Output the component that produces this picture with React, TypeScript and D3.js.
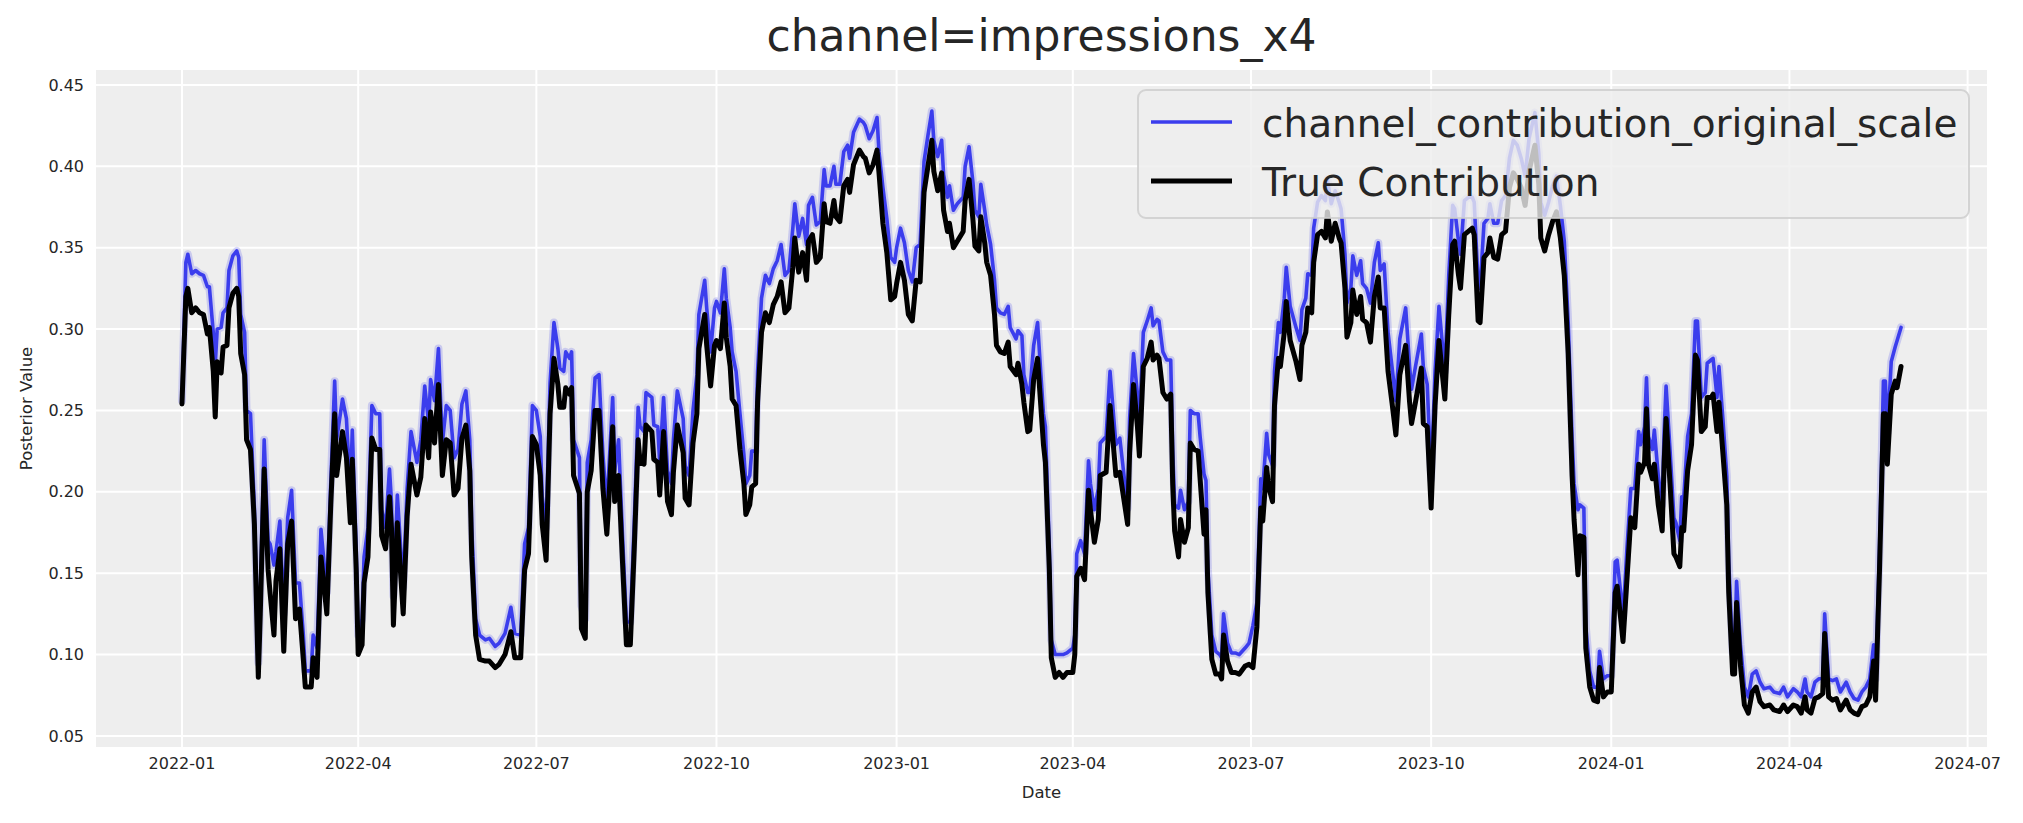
import React from 'react';
import * as d3 from 'd3';

const dayOffsets = [
  0, 2, 3, 5, 7, 9, 11, 13, 14, 16, 17, 18, 20, 21, 23, 24, 26, 28, 29, 30, 32, 33, 35, 37, 39, 40, 42, 44, 45, 47,
  48, 50, 52, 54, 56, 58, 60, 62, 63, 66, 67, 69, 71, 74, 76, 78, 79, 82, 84, 86, 87, 89, 90, 92, 93, 95, 97, 99, 101, 102,
  104, 106, 107, 108, 110, 113, 115, 117, 120, 122, 124, 126, 127, 129, 131, 133, 135, 137, 139, 141, 143, 145, 147, 148, 150, 152, 155, 157, 160, 162,
  165, 168, 170, 173, 175, 177, 179, 181, 183, 184, 186, 188, 190, 192, 193, 195, 196, 198, 199, 200, 203, 204, 206, 207, 209, 211, 213, 215, 217, 218,
  220, 221, 223, 225, 227, 229, 231, 233, 234, 236, 237, 240, 241, 243, 244, 246, 248, 250, 251, 253, 256, 257, 259, 261, 263, 264, 267, 268, 270, 272,
  273, 275, 277, 278, 280, 281, 283, 285, 287, 288, 290, 291, 293, 294, 296, 298, 300, 302, 304, 306, 308, 310, 312, 313, 315, 317, 319, 320, 322, 324,
  326, 328, 329, 331, 333, 334, 336, 338, 340, 341, 343, 346, 348, 349, 351, 353, 355, 356, 358, 360, 362, 364, 365, 367, 369, 371, 373, 375, 377, 379,
  381, 383, 384, 386, 388, 389, 391, 392, 394, 396, 399, 400, 402, 404, 405, 407, 408, 410, 411, 413, 415, 416, 418, 420, 422, 423, 426, 427, 429, 430,
  432, 433, 435, 437, 438, 440, 441, 443, 444, 446, 448, 450, 452, 455, 456, 457, 459, 461, 463, 464, 466, 468, 469, 472, 474, 477, 479, 483, 484, 486,
  488, 489, 491, 493, 495, 496, 498, 499, 501, 503, 505, 506, 507, 509, 510, 512, 514, 515, 517, 519, 520, 522, 523, 524, 526, 528, 530, 531, 532, 534,
  536, 538, 540, 543, 545, 547, 549, 551, 552, 554, 555, 557, 558, 560, 561, 563, 564, 566, 569, 571, 572, 574, 575, 577, 578, 580, 582, 584, 585, 587,
  589, 591, 592, 594, 595, 597, 598, 600, 602, 603, 605, 607, 609, 611, 612, 614, 616, 618, 620, 622, 625, 627, 628, 630, 633, 634, 636, 638, 640, 642,
  645, 647, 649, 650, 652, 653, 655, 657, 659, 660, 662, 663, 665, 667, 668, 670, 672, 674, 676, 678, 680, 682, 684, 686, 688, 691, 693, 694, 696, 698,
  700, 702, 704, 706, 708, 710, 711, 713, 714, 716, 717, 719, 721, 723, 724, 726, 728, 730, 732, 733, 735, 736, 738, 740, 742, 744, 745, 747, 748, 749,
  751, 752, 754, 756, 757, 758, 760, 762, 763, 765, 766, 767, 769, 771, 773, 774, 776, 778, 779, 781, 782, 784, 785, 787, 789, 790, 792, 793, 794, 796,
  798, 800, 802, 804, 806, 808, 811, 813, 816, 818, 820, 823, 825, 827, 829, 830, 832, 834, 836, 838, 839, 841, 843, 845, 847, 850, 852, 854, 856, 858,
  860, 862, 864, 865, 867, 869, 870, 871, 873, 875, 876, 878,
];

// posterior mean of channel_contribution_original_scale
const posteriorMean = [
  0.256, 0.341, 0.346, 0.334, 0.336, 0.334, 0.333, 0.326, 0.326, 0.298, 0.278, 0.3, 0.301, 0.31, 0.313, 0.336, 0.345, 0.348, 0.344, 0.309, 0.298, 0.25, 0.248, 0.19, 0.095, 0.138, 0.232, 0.17, 0.168, 0.155,
  0.163, 0.182, 0.125, 0.184, 0.201, 0.144, 0.144, 0.112, 0.09, 0.09, 0.112, 0.104, 0.177, 0.138, 0.205, 0.268, 0.232, 0.257, 0.245, 0.2, 0.238, 0.165, 0.112, 0.122, 0.16, 0.178, 0.253, 0.248, 0.248, 0.189,
  0.178, 0.214, 0.194, 0.136, 0.198, 0.141, 0.202, 0.237, 0.218, 0.232, 0.265, 0.242, 0.269, 0.256, 0.288, 0.23, 0.253, 0.25, 0.221, 0.226, 0.254, 0.262, 0.232, 0.178, 0.122, 0.112, 0.109, 0.11, 0.105, 0.107,
  0.113, 0.129, 0.113, 0.112, 0.168, 0.178, 0.253, 0.25, 0.234, 0.197, 0.178, 0.267, 0.304, 0.288, 0.276, 0.274, 0.286, 0.282, 0.286, 0.232, 0.221, 0.13, 0.122, 0.218, 0.232, 0.27, 0.272, 0.223, 0.19, 0.213,
  0.258, 0.213, 0.232, 0.173, 0.12, 0.12, 0.181, 0.252, 0.24, 0.237, 0.261, 0.258, 0.241, 0.24, 0.218, 0.258, 0.213, 0.205, 0.232, 0.262, 0.245, 0.216, 0.21, 0.25, 0.272, 0.309, 0.33, 0.313, 0.286, 0.313,
  0.317, 0.31, 0.337, 0.319, 0.301, 0.286, 0.274, 0.248, 0.223, 0.205, 0.21, 0.225, 0.225, 0.274, 0.319, 0.333, 0.328, 0.337, 0.342, 0.352, 0.333, 0.336, 0.362, 0.377, 0.357, 0.368, 0.352, 0.376, 0.381, 0.364,
  0.366, 0.398, 0.388, 0.388, 0.4, 0.389, 0.389, 0.409, 0.413, 0.405, 0.421, 0.429, 0.427, 0.425, 0.417, 0.422, 0.43, 0.409, 0.387, 0.368, 0.344, 0.341, 0.35, 0.362, 0.353, 0.336, 0.329, 0.35, 0.352, 0.403,
  0.419, 0.434, 0.416, 0.406, 0.416, 0.395, 0.381, 0.388, 0.373, 0.377, 0.381, 0.4, 0.412, 0.39, 0.373, 0.369, 0.389, 0.373, 0.364, 0.352, 0.33, 0.313, 0.31, 0.309, 0.314, 0.301, 0.294, 0.299, 0.296, 0.272,
  0.261, 0.261, 0.29, 0.304, 0.285, 0.248, 0.24, 0.165, 0.109, 0.1, 0.1, 0.1, 0.101, 0.104, 0.112, 0.162, 0.17, 0.162, 0.219, 0.205, 0.189, 0.202, 0.23, 0.234, 0.274, 0.229, 0.233, 0.19, 0.245, 0.285,
  0.26, 0.242, 0.298, 0.305, 0.313, 0.302, 0.306, 0.305, 0.286, 0.281, 0.281, 0.226, 0.192, 0.19, 0.201, 0.189, 0.194, 0.25, 0.248, 0.248, 0.234, 0.211, 0.207, 0.152, 0.112, 0.102, 0.1, 0.098, 0.125, 0.107,
  0.101, 0.101, 0.1, 0.104, 0.107, 0.118, 0.132, 0.208, 0.202, 0.236, 0.223, 0.216, 0.274, 0.304, 0.298, 0.319, 0.338, 0.314, 0.301, 0.293, 0.312, 0.319, 0.334, 0.333, 0.362, 0.378, 0.382, 0.379, 0.392, 0.377,
  0.385, 0.378, 0.374, 0.346, 0.316, 0.325, 0.345, 0.333, 0.342, 0.328, 0.325, 0.316, 0.341, 0.353, 0.336, 0.34, 0.298, 0.277, 0.256, 0.294, 0.313, 0.277, 0.263, 0.277, 0.297, 0.277, 0.266, 0.208, 0.274, 0.314,
  0.274, 0.333, 0.376, 0.374, 0.354, 0.346, 0.379, 0.381, 0.381, 0.378, 0.328, 0.325, 0.365, 0.368, 0.377, 0.365, 0.365, 0.379, 0.382, 0.405, 0.416, 0.413, 0.405, 0.394, 0.417, 0.433, 0.408, 0.378, 0.37, 0.378,
  0.388, 0.394, 0.376, 0.354, 0.304, 0.233, 0.205, 0.189, 0.192, 0.19, 0.117, 0.09, 0.08, 0.08, 0.102, 0.085, 0.087, 0.087, 0.157, 0.158, 0.136, 0.122, 0.165, 0.202, 0.202, 0.237, 0.229, 0.24, 0.27, 0.234,
  0.226, 0.238, 0.21, 0.192, 0.237, 0.265, 0.226, 0.184, 0.181, 0.17, 0.197, 0.196, 0.234, 0.248, 0.305, 0.305, 0.258, 0.261, 0.279, 0.281, 0.282, 0.258, 0.277, 0.245, 0.21, 0.157, 0.101, 0.101, 0.145, 0.106,
  0.08, 0.074, 0.088, 0.09, 0.083, 0.079, 0.08, 0.077, 0.076, 0.08, 0.074, 0.079, 0.077, 0.074, 0.085, 0.077, 0.074, 0.083, 0.085, 0.086, 0.125, 0.085, 0.084, 0.085, 0.077, 0.083, 0.077, 0.073, 0.072, 0.077,
  0.08, 0.085, 0.106, 0.085, 0.165, 0.268, 0.268, 0.236, 0.28, 0.289, 0.293, 0.301,
];

// true contribution used to simulate the data
const trueContribution = [
  0.254, 0.32, 0.325, 0.31, 0.313, 0.31, 0.309, 0.297, 0.301, 0.274, 0.246, 0.28, 0.273, 0.289, 0.29, 0.313, 0.322, 0.325, 0.32, 0.285, 0.272, 0.232, 0.226, 0.18, 0.086, 0.125, 0.214, 0.152, 0.138, 0.112,
  0.145, 0.165, 0.102, 0.168, 0.182, 0.122, 0.128, 0.097, 0.08, 0.08, 0.098, 0.086, 0.16, 0.125, 0.192, 0.248, 0.21, 0.237, 0.221, 0.181, 0.22, 0.152, 0.1, 0.106, 0.144, 0.16, 0.233, 0.226, 0.226, 0.173,
  0.165, 0.197, 0.178, 0.118, 0.181, 0.125, 0.185, 0.217, 0.198, 0.209, 0.245, 0.221, 0.249, 0.23, 0.266, 0.21, 0.232, 0.23, 0.198, 0.202, 0.233, 0.241, 0.213, 0.16, 0.112, 0.097, 0.096, 0.096, 0.092, 0.094,
  0.1, 0.114, 0.098, 0.098, 0.152, 0.162, 0.234, 0.229, 0.21, 0.18, 0.158, 0.248, 0.282, 0.266, 0.252, 0.252, 0.264, 0.26, 0.264, 0.21, 0.199, 0.116, 0.11, 0.2, 0.213, 0.25, 0.25, 0.202, 0.174, 0.194,
  0.24, 0.194, 0.21, 0.157, 0.106, 0.106, 0.165, 0.232, 0.218, 0.217, 0.241, 0.237, 0.22, 0.218, 0.198, 0.237, 0.194, 0.186, 0.212, 0.241, 0.224, 0.196, 0.192, 0.23, 0.248, 0.288, 0.309, 0.29, 0.265, 0.29,
  0.293, 0.288, 0.316, 0.295, 0.277, 0.257, 0.253, 0.226, 0.205, 0.186, 0.192, 0.203, 0.205, 0.255, 0.298, 0.31, 0.304, 0.315, 0.32, 0.329, 0.31, 0.313, 0.338, 0.356, 0.335, 0.347, 0.33, 0.354, 0.358, 0.341,
  0.344, 0.377, 0.366, 0.365, 0.379, 0.369, 0.366, 0.388, 0.392, 0.384, 0.401, 0.41, 0.406, 0.405, 0.396, 0.401, 0.41, 0.396, 0.365, 0.347, 0.318, 0.32, 0.328, 0.341, 0.33, 0.309, 0.305, 0.33, 0.329, 0.384,
  0.4, 0.416, 0.397, 0.385, 0.396, 0.373, 0.36, 0.365, 0.35, 0.354, 0.36, 0.379, 0.392, 0.367, 0.351, 0.348, 0.369, 0.353, 0.341, 0.333, 0.309, 0.29, 0.286, 0.285, 0.292, 0.277, 0.272, 0.279, 0.266, 0.255,
  0.237, 0.238, 0.269, 0.282, 0.264, 0.229, 0.218, 0.152, 0.098, 0.086, 0.089, 0.086, 0.089, 0.089, 0.1, 0.148, 0.153, 0.146, 0.201, 0.189, 0.169, 0.183, 0.21, 0.212, 0.253, 0.21, 0.212, 0.18, 0.224, 0.266,
  0.24, 0.222, 0.277, 0.282, 0.292, 0.281, 0.284, 0.282, 0.261, 0.257, 0.26, 0.205, 0.176, 0.16, 0.183, 0.169, 0.178, 0.23, 0.226, 0.225, 0.208, 0.174, 0.189, 0.138, 0.097, 0.088, 0.088, 0.085, 0.112, 0.096,
  0.089, 0.089, 0.088, 0.093, 0.094, 0.092, 0.117, 0.19, 0.182, 0.215, 0.203, 0.194, 0.253, 0.282, 0.277, 0.298, 0.317, 0.293, 0.28, 0.269, 0.29, 0.298, 0.313, 0.31, 0.341, 0.358, 0.36, 0.356, 0.372, 0.354,
  0.365, 0.356, 0.353, 0.325, 0.295, 0.304, 0.324, 0.309, 0.32, 0.306, 0.304, 0.292, 0.32, 0.332, 0.313, 0.313, 0.274, 0.255, 0.235, 0.272, 0.29, 0.255, 0.242, 0.255, 0.276, 0.242, 0.24, 0.19, 0.253, 0.293,
  0.257, 0.309, 0.352, 0.354, 0.333, 0.325, 0.358, 0.36, 0.362, 0.358, 0.305, 0.304, 0.344, 0.347, 0.356, 0.344, 0.343, 0.358, 0.36, 0.387, 0.396, 0.392, 0.387, 0.376, 0.397, 0.413, 0.389, 0.356, 0.348, 0.358,
  0.366, 0.372, 0.356, 0.333, 0.285, 0.21, 0.183, 0.149, 0.173, 0.172, 0.104, 0.08, 0.072, 0.071, 0.092, 0.074, 0.077, 0.077, 0.138, 0.142, 0.12, 0.108, 0.146, 0.184, 0.178, 0.217, 0.212, 0.218, 0.251, 0.217,
  0.208, 0.217, 0.192, 0.176, 0.218, 0.245, 0.205, 0.162, 0.16, 0.154, 0.178, 0.176, 0.213, 0.229, 0.284, 0.281, 0.237, 0.24, 0.258, 0.258, 0.26, 0.237, 0.255, 0.224, 0.192, 0.138, 0.088, 0.088, 0.132, 0.093,
  0.069, 0.064, 0.077, 0.08, 0.071, 0.068, 0.069, 0.066, 0.065, 0.069, 0.065, 0.069, 0.068, 0.064, 0.074, 0.066, 0.064, 0.073, 0.074, 0.076, 0.113, 0.074, 0.072, 0.073, 0.066, 0.072, 0.066, 0.064, 0.063, 0.068,
  0.069, 0.074, 0.096, 0.072, 0.152, 0.248, 0.248, 0.217, 0.26, 0.268, 0.264, 0.277,
];

const yTicks = [0.05, 0.1, 0.15, 0.2, 0.25, 0.3, 0.35, 0.4, 0.45];
const yLimits = [0.0432, 0.4592];
const seriesNames = ['channel_contribution_original_scale', 'True Contribution'];
const chartTitle = 'channel=impressions_x4';

const W = 2023;
const H = 823;
const margin = { top: 70, right: 36, bottom: 76, left: 96 };
const FONT = '"DejaVu Sans", Verdana, sans-serif';
const TEXT = '#262626';
const BLUE = '#3b3ded';
const BLUE_W = 3.6;
const BLACK_W = 5;

type Pt = { date: Date; v: number };

export default function App() {
  const start = Date.UTC(2022, 0, 1);
  const day = 864e5;
  const dates = dayOffsets.map(d => new Date(start + d * day));

  const x0 = margin.left;
  const x1 = W - margin.right;
  const y0 = margin.top;
  const y1 = H - margin.bottom;

  // matplotlib-style 5% padding on the date axis
  const span = d3.max(dayOffsets)! - d3.min(dayOffsets)!;
  const pad = span * 0.05;
  const x = d3
    .scaleUtc()
    .domain([new Date(start - pad * day), new Date(start + (span + pad) * day)])
    .range([x0, x1]);
  const y = d3.scaleLinear().domain(yLimits).range([y1, y0]);

  const xTicks = d3.utcMonth.every(3)!.range(x.domain()[0], x.domain()[1]);
  const fmt = d3.utcFormat('%Y-%m');

  const line = d3
    .line<Pt>()
    .x(d => x(d.date))
    .y(d => y(d.v));

  const blue: Pt[] = dates.map((d, i) => ({ date: d, v: posteriorMean[i] }));
  const black: Pt[] = dates.map((d, i) => ({ date: d, v: trueContribution[i] }));

  // legend box
  const lg = { x: 1138, y: 90, w: 831, h: 128 };

  return (
    <svg
      width={W}
      height={H}
      style={{ position: 'absolute', left: 0, top: 0, background: '#fff' }}
      fontFamily={FONT}
    >
      <defs>
        <clipPath id="plotclip">
          <rect x={x0} y={y0} width={x1 - x0} height={y1 - y0} />
        </clipPath>
      </defs>
      <rect x={x0} y={y0} width={x1 - x0} height={y1 - y0} fill="#eeeeee" />

      {/* grid */}
      {yTicks.map(t => (
        <line key={'gy' + t} x1={x0} x2={x1} y1={y(t)} y2={y(t)} stroke="#fff" strokeWidth={2} />
      ))}
      {xTicks.map(t => (
        <line key={'gx' + t.getTime()} x1={x(t)} x2={x(t)} y1={y0} y2={y1} stroke="#fff" strokeWidth={2} />
      ))}

      {/* series */}
      <g clipPath="url(#plotclip)" fill="none" strokeLinejoin="round" strokeLinecap="round">
        <path d={line(blue) || ''} stroke={BLUE} strokeOpacity={0.2} strokeWidth={8} />
        <path d={line(blue) || ''} stroke={BLUE} strokeWidth={BLUE_W} />
        <path d={line(black) || ''} stroke="#000" strokeWidth={BLACK_W} />
      </g>

      {/* y tick labels */}
      {yTicks.map(t => (
        <text key={'ty' + t} x={84} y={y(t)} dy="0.35em" textAnchor="end" fontSize={16} fill={TEXT}>
          {t.toFixed(2)}
        </text>
      ))}
      {/* x tick labels */}
      {xTicks.map(t => (
        <text key={'tx' + t.getTime()} x={x(t)} y={769} textAnchor="middle" fontSize={16} fill={TEXT}>
          {fmt(t)}
        </text>
      ))}

      {/* axis labels */}
      <text x={(x0 + x1) / 2} y={798} textAnchor="middle" fontSize={16.5} fill={TEXT}>
        Date
      </text>
      <text
        transform={`translate(26,${(y0 + y1) / 2}) rotate(-90)`}
        textAnchor="middle"
        dy="0.35em"
        fontSize={16.5}
        fill={TEXT}
      >
        Posterior Value
      </text>

      {/* title */}
      <text x={(x0 + x1) / 2} y={51} textAnchor="middle" fontSize={44} fill={TEXT}>
        {chartTitle}
      </text>

      {/* legend */}
      <rect
        x={lg.x}
        y={lg.y}
        width={lg.w}
        height={lg.h}
        rx={8}
        fill="#eeeeee"
        fillOpacity={0.8}
        stroke="#cccccc"
        strokeOpacity={0.8}
        strokeWidth={2}
      />
      <line x1={1151} x2={1232} y1={122} y2={122} stroke={BLUE} strokeWidth={BLUE_W} />
      <line x1={1151} x2={1232} y1={181} y2={181} stroke="#000" strokeWidth={BLACK_W} />
      <text x={1262} y={137} fontSize={39} fill={TEXT}>
        {seriesNames[0]}
      </text>
      <text x={1262} y={196} fontSize={39} fill={TEXT}>
        {seriesNames[1]}
      </text>
    </svg>
  );
}
